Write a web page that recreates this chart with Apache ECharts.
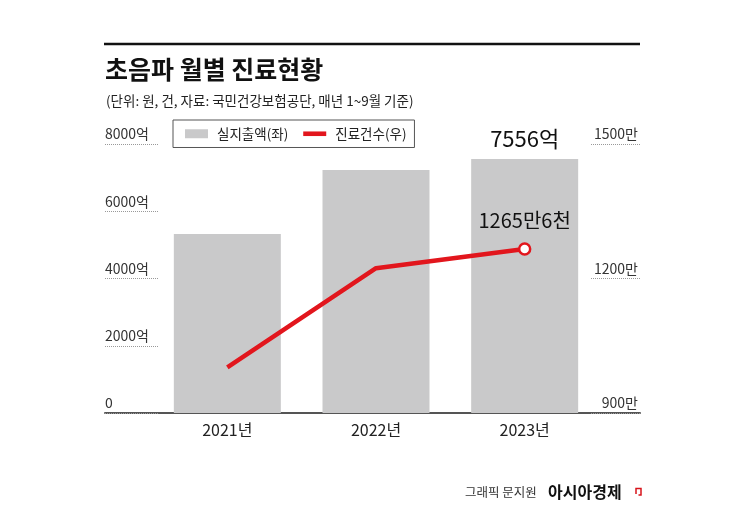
<!DOCTYPE html>
<html>
<head>
<meta charset="utf-8">
<script src="https://cdn.jsdelivr.net/npm/echarts@6/dist/echarts.min.js"></script>
<style>
html,body{margin:0;padding:0;background:#fff;}
#chart{width:745px;height:519px;}
</style>
</head>
<body>
<div id="chart"></div>
<script>
// ---- data ----
const categories = ['2021년', '2022년', '2023년'];
const spending = [5320, 7230, 7556];          // 실지출액, 억 원 (left axis)
const cases = [1002, 1223, 1265.6];           // 진료건수, 만 건 (right axis)
const leftTicks = [0, 2000, 4000, 6000, 8000];
const rightTicks = [900, 1200, 1500];
const seriesNames = ['실지출액(좌)', '진료건수(우)'];
const titleText = '초음파 월별 진료현황';
const subtitleText = '(단위: 원, 건, 자료: 국민건강보험공단, 매년 1~9월 기준)';
const spendLabel = '7556억';
const casesLabel = '1265만6천';

const FONT = '"Noto Sans CJK KR", "Noto Sans", sans-serif';
const RED = '#e2161d';
const last = categories.length - 1;

const barData = spending.map((v, i) => i === last ? {
  value: v,
  label: { show: true, position: 'top', distance: 9, formatter: spendLabel,
           fontSize: 22, color: '#111', fontFamily: FONT }
} : v);

const lineData = cases.map((v, i) => i === last ? {
  value: v,
  symbol: 'circle', symbolSize: 11,
  itemStyle: { color: '#fff', borderColor: RED, borderWidth: 2.5 },
  label: { show: true, position: 'top', distance: 12, formatter: casesLabel,
           fontSize: 20, color: '#111', fontFamily: FONT }
} : v);

const chart = echarts.init(document.getElementById('chart'), null, { renderer: 'canvas' });

const gridTop = 144, gridBottom = 106;

chart.setOption({
  backgroundColor: '#fff',
  animation: false,
  textStyle: { fontFamily: FONT },
  title: [
    { text: titleText, left: 100, top: 52,
      textStyle: { fontSize: 25, fontWeight: 'bold', color: '#111', fontFamily: FONT } },
    { text: subtitleText, left: 101, top: 89,
      textStyle: { fontSize: 13.5, fontWeight: 'normal', color: '#222', fontFamily: FONT } }
  ],
  legend: {
    left: 173, top: 120,
    orient: 'horizontal',
    borderColor: '#555', borderWidth: 1,
    padding: [7, 8, 7, 12],
    itemWidth: 23, itemHeight: 9, itemGap: 15,
    symbolKeepAspect: true,
    textStyle: { fontSize: 13.5, color: '#222', fontFamily: FONT, padding: [0, 0, 0, 4] },
    data: [
      { name: seriesNames[0], icon: 'rect' },
      { name: seriesNames[1], icon: 'path://M0,0L20,0L20,4L0,4Z' }
    ]
  },
  grid: [
    { left: 153, right: 146, top: gridTop, bottom: gridBottom },
    { left: 105, right: 105, top: gridTop, bottom: gridBottom }
  ],
  xAxis: [
    { type: 'category', gridIndex: 0, data: categories,
      axisLine: { show: false }, axisTick: { show: false },
      axisLabel: { fontSize: 16, color: '#222', margin: 9, fontFamily: FONT } },
    { type: 'value', gridIndex: 1, min: 0, max: 1,
      axisLine: { show: true, lineStyle: { color: '#555', width: 2 } },
      axisTick: { show: false }, axisLabel: { show: false }, splitLine: { show: false } }
  ],
  yAxis: [
    { type: 'value', gridIndex: 0, min: leftTicks[0], max: leftTicks[leftTicks.length - 1], show: false },
    { type: 'value', gridIndex: 0, min: rightTicks[0], max: rightTicks[rightTicks.length - 1], show: false },
    { type: 'value', gridIndex: 1, position: 'left',
      min: leftTicks[0], max: leftTicks[leftTicks.length - 1], interval: leftTicks[1] - leftTicks[0],
      axisLine: { show: false },
      axisTick: { show: true, inside: true, length: 53, lineStyle: { color: '#999', type: 'dotted', width: 1 } },
      splitLine: { show: false },
      axisLabel: { inside: true, margin: 0, align: 'left', verticalAlign: 'bottom', padding: [0, 0, 3, 0],
                   fontSize: 14, color: '#333', fontFamily: FONT,
                   formatter: v => v === 0 ? '0' : v + '억' } },
    { type: 'value', gridIndex: 1, position: 'right',
      min: rightTicks[0], max: rightTicks[rightTicks.length - 1], interval: rightTicks[1] - rightTicks[0],
      axisLine: { show: false },
      axisTick: { show: true, inside: true, length: 50, lineStyle: { color: '#999', type: 'dotted', width: 1 } },
      splitLine: { show: false },
      axisLabel: { inside: true, margin: 2, align: 'right', verticalAlign: 'bottom', padding: [0, 0, 3, 0],
                   fontSize: 14, color: '#333', fontFamily: FONT,
                   formatter: v => v + '만' } }
  ],
  series: [
    { name: seriesNames[0], type: 'bar', xAxisIndex: 0, yAxisIndex: 0,
      data: barData, barWidth: 107,
      itemStyle: { color: '#c9c9ca' }, z: 1 },
    { name: seriesNames[1], type: 'line', xAxisIndex: 0, yAxisIndex: 1,
      data: lineData, symbol: 'none', showSymbol: true,
      lineStyle: { color: RED, width: 4.5 }, itemStyle: { color: RED }, z: 3 }
  ],
  graphic: [
    { type: 'line', shape: { x1: 104, y1: 44, x2: 640, y2: 44 },
      style: { stroke: '#111', lineWidth: 2.5 } },
    { type: 'text', left: 465, top: 486,
      style: { text: '그래픽 문지원', fontSize: 12.5, fill: '#333', fontFamily: FONT } },
    { type: 'text', left: 548, top: 484,
      style: { text: '아시아경제', fontSize: 16, fontWeight: 'bold', fill: '#111', fontFamily: FONT } },
    { type: 'polyline', shape: { points: [[636, 494], [636, 488.5], [641, 488.5], [641, 495], [638.5, 495]] },
      style: { stroke: '#d7141b', lineWidth: 1.5, fill: null } }
  ]
});
</script>
</body>
</html>
